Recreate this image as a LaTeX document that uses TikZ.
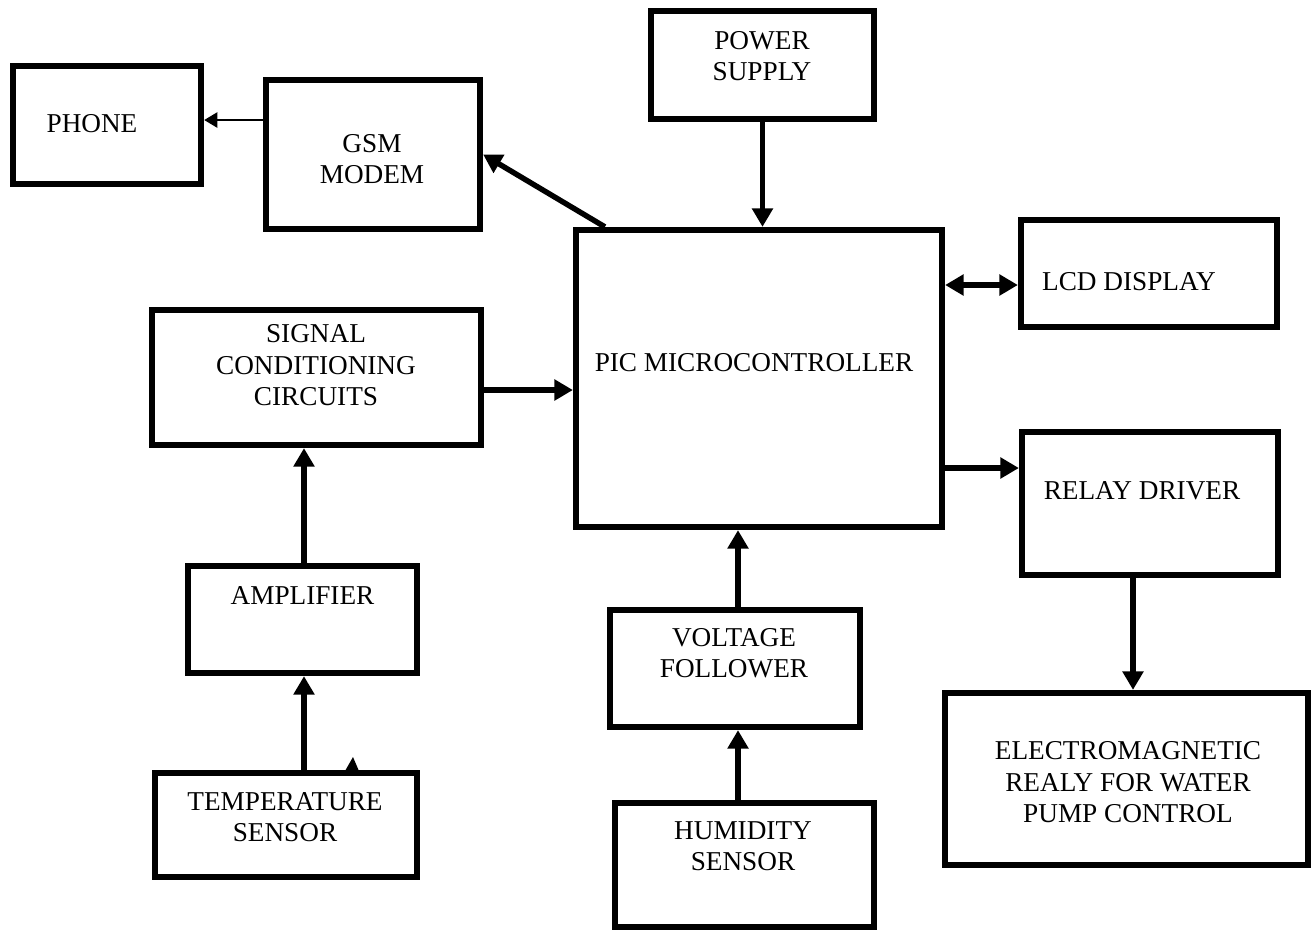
\documentclass[tikz,border=0pt]{standalone}
\usepackage{fontspec}
\setmainfont{Liberation Serif}
\usetikzlibrary{arrows.meta, positioning, calc}

\begin{document}
\begin{tikzpicture}[
    x=0.02cm, y=-0.02cm,
    blk/.style={rectangle, draw=black, line width=3.6pt, inner sep=0pt},
    txt/.style={align=center, inner sep=0pt, font=\fontsize{15.5pt}{17.9pt}\selectfont},
    arr/.style={line width=3.1pt, -{Triangle[length=10.5pt, width=11.5pt]}},
    dblarr/.style={line width=3.1pt, {Triangle[length=10.5pt, width=11.5pt]}-{Triangle[length=10.5pt, width=11.5pt]}},
    thinarr/.style={line width=1.5pt, -{Triangle[length=7.5pt, width=8.5pt]}}
]
\useasboundingbox (0,0) rectangle (1312,931);

% blocks
\node[blk, minimum width=3.76cm, minimum height=2.36cm] (phone)   at (107,125)    {};
\node[blk, minimum width=4.28cm, minimum height=2.98cm] (gsm)     at (373,154.5)  {};
\node[blk, minimum width=4.46cm, minimum height=2.16cm] (power)   at (762.5,65)   {};
\node[blk, minimum width=7.32cm, minimum height=5.94cm] (pic)     at (759,378.5)  {};
\node[blk, minimum width=5.12cm, minimum height=2.14cm] (lcd)     at (1149,273.5) {};
\node[blk, minimum width=6.58cm, minimum height=2.70cm] (signal)  at (316.5,377.5) {};
\node[blk, minimum width=5.12cm, minimum height=2.86cm] (relay)   at (1150,503.5) {};
\node[blk, minimum width=7.26cm, minimum height=3.44cm] (emrelay) at (1126.5,779) {};
\node[blk, minimum width=4.58cm, minimum height=2.14cm] (amp)     at (302.5,619.5) {};
\node[blk, minimum width=5.24cm, minimum height=2.08cm] (temp)    at (286,825)    {};
\node[blk, minimum width=5.00cm, minimum height=2.34cm] (volt)    at (735,668.5)  {};
\node[blk, minimum width=5.18cm, minimum height=2.48cm] (hum)     at (744.5,865)  {};

% labels
\node[txt] (phonelbl)   at (92,124)    {PHONE};
\node[txt] (gsmlbl)     at (372,159)   {GSM\\MODEM};
\node[txt] (powerlbl)   at (762,56)    {POWER\\SUPPLY};
\node[txt] (piclbl)     at (754,363)   {PIC MICROCONTROLLER};
\node[txt] (lcdlbl)     at (1129,282)  {LCD DISPLAY};
\node[txt] (signallbl)  at (316,365.5) {SIGNAL\\CONDITIONING\\CIRCUITS};
\node[txt] (relaylbl)   at (1142,491)  {RELAY DRIVER};
\node[txt] (emrelaylbl) at (1128,782.5) {ELECTROMAGNETIC\\REALY FOR WATER\\PUMP CONTROL};
\node[txt] (amplbl)     at (302.5,595) {AMPLIFIER};
\node[txt] (templbl)    at (285,817)   {TEMPERATURE\\SENSOR};
\node[txt] (voltlbl)    at (734,653)   {VOLTAGE\\FOLLOWER};
\node[txt] (humlbl)     at (743,846)   {HUMIDITY\\SENSOR};

% connections
\draw[thinarr] (gsm.west |- 0,120) -- (phone.east |- 0,120);
\draw[arr] ($(pic.north west)+(32,0)$) -- (gsm.east);
\draw[arr] (power.south) -- (power.south |- pic.north);
\draw[dblarr] (pic.east |- 0,285) -- (lcd.west |- 0,285);
\draw[arr] (signal.east |- 0,390) -- (pic.west |- 0,390);
\draw[arr] (pic.east |- 0,468) -- (relay.west |- 0,468);
\draw[arr] (relay.south -| 1133,0) -- (emrelay.north -| 1133,0);
\draw[arr] (amp.north -| 304,0) -- (signal.south -| 304,0);
\draw[arr] (temp.north -| 304,0) -- (amp.south -| 304,0);
\draw[arr] (volt.north -| 738,0) -- (pic.south -| 738,0);
\draw[arr] (hum.north -| 738,0) -- (volt.south -| 738,0);
\fill (345,771) -- (353,757) -- (359,771) -- cycle;
\end{tikzpicture}
\end{document}
